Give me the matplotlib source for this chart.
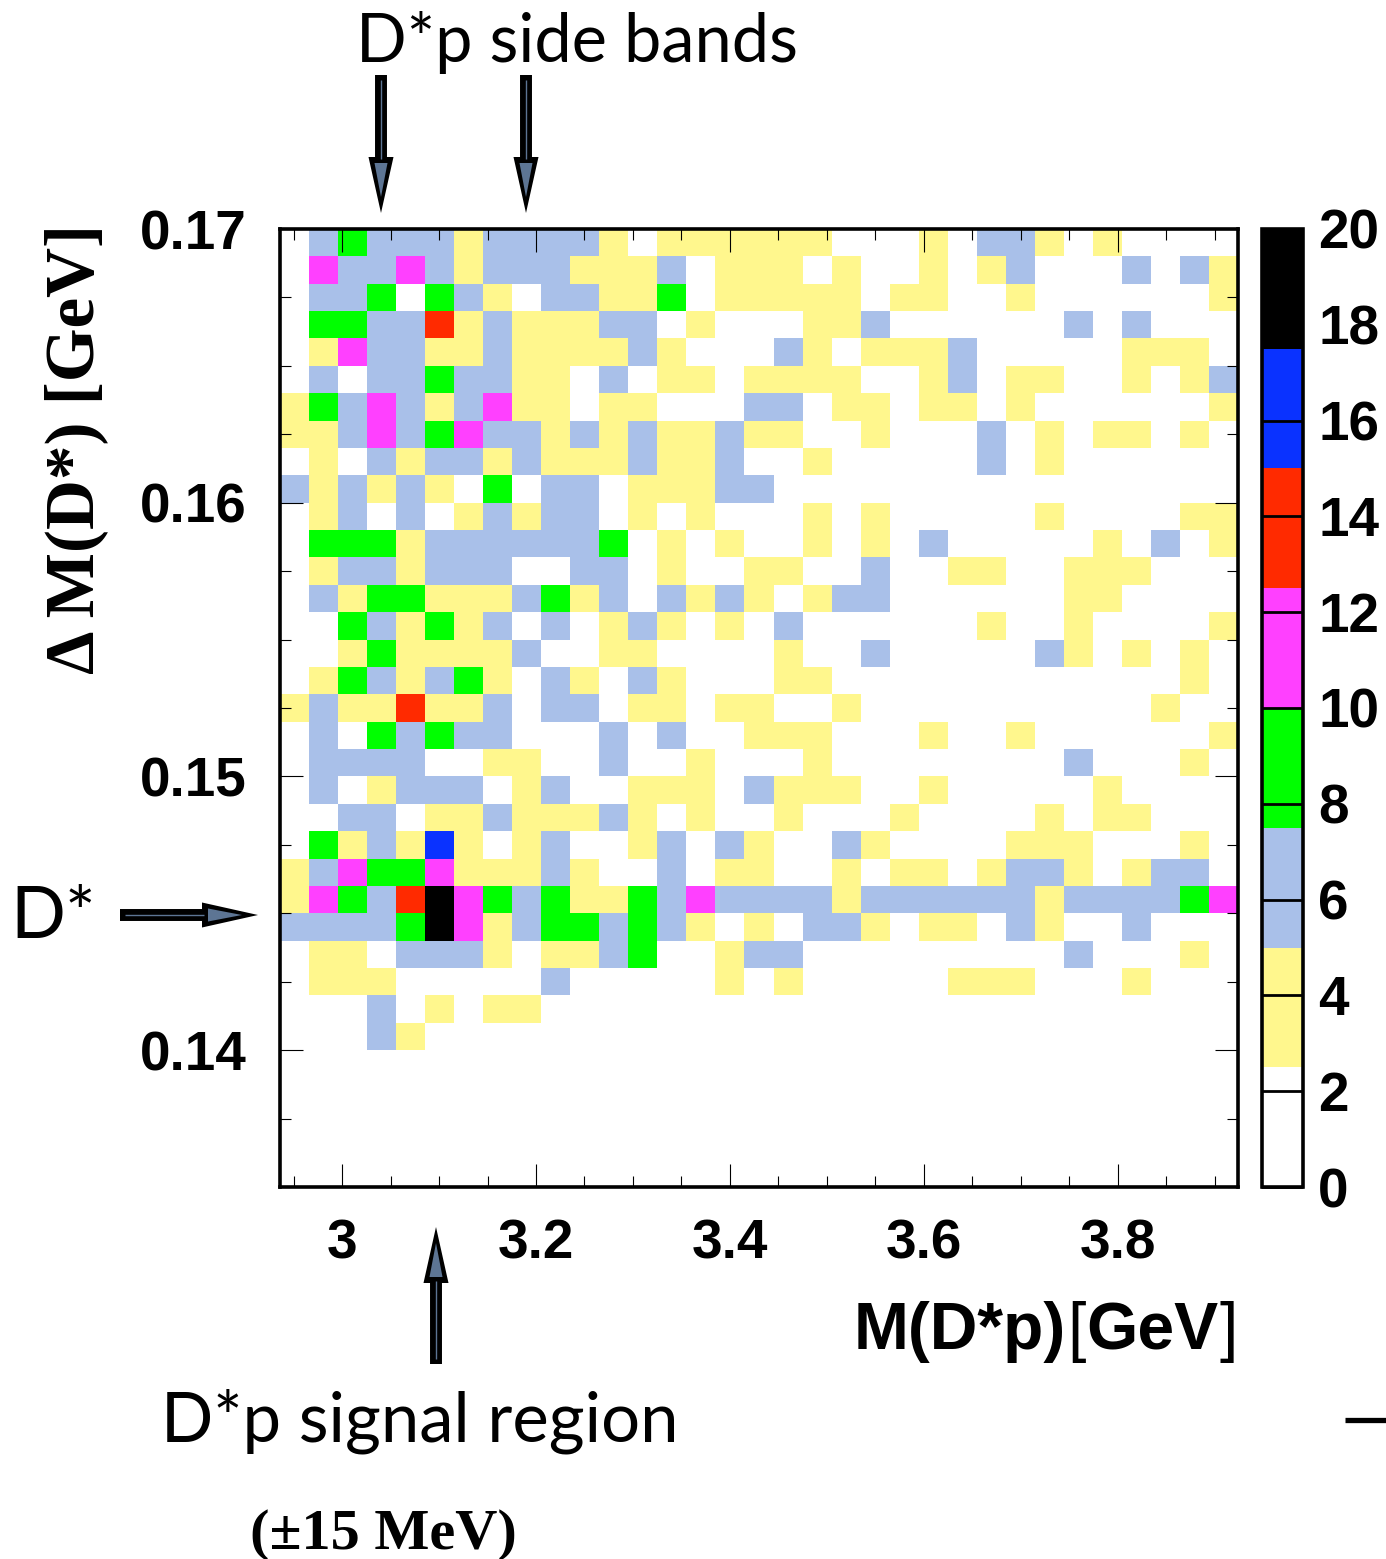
import numpy as np
import matplotlib
matplotlib.use("Agg")
import matplotlib.pyplot as plt
from matplotlib.colors import ListedColormap, BoundaryNorm
from matplotlib.patches import Polygon
from matplotlib.lines import Line2D
from matplotlib.ticker import MultipleLocator, FuncFormatter
from matplotlib.transforms import Affine2D

W, H = 1386, 1559
# Counts per cell, listed from the top row (0.170) downward, left to right
row_00 = [0,6,8,6,6,6,3,6,6,6,6,3,0,3,3,3,3,3,3,0,0,0,3,0,6,6,3,0,3,0,0,0,0]
row_01 = [0,11,6,6,11,6,3,6,6,6,3,3,3,6,0,3,3,3,0,3,0,0,3,0,3,6,0,0,0,6,0,6,3]
row_02 = [0,6,6,8,0,8,6,3,0,6,6,3,3,8,0,3,3,3,3,3,0,3,3,0,0,3,0,0,0,0,0,0,3]
row_03 = [0,8,8,6,6,13,3,6,3,3,3,6,6,0,3,0,0,0,3,3,6,0,0,0,0,0,0,6,0,6,0,0,0]
row_04 = [0,3,11,6,6,3,3,6,3,3,3,3,6,3,0,0,0,6,3,0,3,3,3,6,0,0,0,0,0,3,3,3,0]
row_05 = [0,6,0,6,6,8,6,6,3,3,0,6,0,3,3,0,3,3,3,3,0,0,3,6,0,3,3,0,0,3,0,3,6]
row_06 = [3,8,6,11,6,3,6,11,3,3,0,3,3,0,0,0,6,6,0,3,3,0,3,3,0,3,0,0,0,0,0,0,3]
row_07 = [3,3,6,11,6,8,11,6,6,3,6,3,6,3,3,6,3,3,0,0,3,0,0,0,6,0,3,0,3,3,0,3,0]
row_08 = [0,3,0,6,3,6,6,3,6,3,3,3,6,3,3,6,0,0,3,0,0,0,0,0,6,0,3,0,0,0,0,0,0]
row_09 = [6,3,6,3,6,3,0,8,0,6,6,0,3,3,3,6,6,0,0,0,0,0,0,0,0,0,0,0,0,0,0,0,0]
row_10 = [0,3,6,0,6,0,3,6,3,6,6,0,3,0,3,0,0,0,3,0,3,0,0,0,0,0,3,0,0,0,0,3,3]
row_11 = [0,8,8,8,3,6,6,6,6,6,6,8,0,3,0,3,0,0,3,0,3,0,6,0,0,0,0,0,3,0,6,0,3]
row_12 = [0,3,6,6,3,6,6,6,0,0,6,6,0,3,0,0,3,3,0,0,6,0,0,3,3,0,0,3,3,3,0,0,0]
row_13 = [0,6,3,8,8,3,3,3,6,8,3,6,0,6,3,6,3,0,3,6,6,0,0,0,0,0,0,3,3,0,0,0,0]
row_14 = [0,0,8,6,3,8,3,6,0,6,0,3,6,3,0,3,0,6,0,0,0,0,0,0,3,0,0,3,0,0,0,0,3]
row_15 = [0,0,3,8,3,3,3,3,6,0,0,3,3,0,0,0,0,3,0,0,6,0,0,0,0,0,6,3,0,3,0,3,0]
row_16 = [0,3,8,6,3,6,8,3,0,6,3,0,6,3,0,0,0,3,3,0,0,0,0,0,0,0,0,0,0,0,0,3,0]
row_17 = [3,6,3,3,13,3,3,6,0,6,6,0,3,3,0,3,3,0,0,3,0,0,0,0,0,0,0,0,0,0,3,0,0]
row_18 = [0,6,0,8,6,8,6,6,0,0,0,6,0,6,0,0,3,3,3,0,0,0,3,0,0,3,0,0,0,0,0,0,3]
row_19 = [0,6,6,6,6,0,0,3,3,0,0,6,0,0,3,0,0,0,3,0,0,0,0,0,0,0,0,6,0,0,0,3,0]
row_20 = [0,6,0,3,6,6,6,0,3,6,0,0,3,3,3,0,6,3,3,3,0,0,3,0,0,0,0,0,3,0,0,0,0]
row_21 = [0,0,6,6,0,3,3,6,3,3,3,6,3,0,3,0,0,3,0,0,0,3,0,0,0,0,3,0,3,3,0,0,0]
row_22 = [0,8,3,6,3,16,3,0,3,6,0,0,3,6,0,6,3,0,0,6,3,0,0,0,0,3,3,3,0,0,0,3,0]
row_23 = [3,6,11,8,8,11,3,3,3,6,3,0,0,6,0,3,3,0,0,3,0,3,3,0,3,6,6,3,0,3,6,6,0]
row_24 = [3,11,8,6,13,19,11,8,6,8,3,3,8,6,11,6,6,6,6,3,6,6,6,6,6,6,3,6,6,6,6,8,11]
row_25 = [6,6,6,6,8,19,11,3,6,8,8,6,8,6,3,0,3,0,6,6,3,0,3,3,0,6,3,0,0,6,0,0,0]
row_26 = [0,3,3,0,6,6,6,3,0,3,3,6,8,0,0,3,6,6,0,0,0,0,0,0,0,0,0,6,0,0,0,3,0]
row_27 = [0,3,3,3,0,0,0,0,0,6,0,0,0,0,0,3,0,3,0,0,0,0,0,3,3,3,0,0,0,3,0,0,0]
row_28 = [0,0,0,6,0,3,0,3,3,0,0,0,0,0,0,0,0,0,0,0,0,0,0,0,0,0,0,0,0,0,0,0,0]
row_29 = [0,0,0,6,3,0,0,0,0,0,0,0,0,0,0,0,0,0,0,0,0,0,0,0,0,0,0,0,0,0,0,0,0]
row_empty = [0] * 33

rows = [row_00, row_01, row_02, row_03, row_04, row_05, row_06, row_07, row_08, row_09,
        row_10, row_11, row_12, row_13, row_14, row_15, row_16, row_17, row_18, row_19,
        row_20, row_21, row_22, row_23, row_24, row_25, row_26, row_27, row_28, row_29,
        row_empty, row_empty, row_empty, row_empty, row_empty]

levels = [0, 2.5, 5, 7.5, 10, 12.5, 15, 17.5, 20]
level_colors = ["#FFFFFF", "#FFF78D", "#A9C0E9", "#00FF00", "#FF40FF", "#FF2A00", "#0A32FF", "#000000"]
x_range = (2.936, 3.924)
y_range = (0.135, 0.170)
cbar_ticks = [0, 2, 4, 6, 8, 10, 12, 14, 16, 18, 20]

SANS = "Liberation Sans"
SERIF = "Liberation Serif"
HUM = "Lato"
TICK_SIZE = 39.5

fig = plt.figure(figsize=(W / 100, H / 100), dpi=100, facecolor="white")
px = Affine2D().scale(1 / W, -1 / H).translate(0, 1) + fig.transFigure


def ax_px(l, t, r, b):
    return fig.add_axes([l / W, 1 - b / H, (r - l) / W, (b - t) / H])


ax = ax_px(280, 229, 1238, 1187)
counts = np.array(rows, dtype=float)
x_edges = np.linspace(x_range[0], x_range[1], counts.shape[1] + 1)
y_edges = np.linspace(y_range[1], y_range[0], counts.shape[0] + 1)
cmap = ListedColormap(level_colors)
norm = BoundaryNorm(levels, cmap.N)
mesh = ax.pcolormesh(x_edges, y_edges, counts, cmap=cmap, norm=norm, antialiased=False, zorder=1)
ax.set_xlim(*x_range)
ax.set_ylim(*y_range)
ax.set_axisbelow(False)
ax.xaxis.set_major_locator(MultipleLocator(0.2))
ax.xaxis.set_minor_locator(MultipleLocator(0.05))
ax.yaxis.set_major_locator(MultipleLocator(0.01))
ax.yaxis.set_minor_locator(MultipleLocator(0.0025))
ax.xaxis.set_major_formatter(FuncFormatter(lambda v, p: f"{v:g}"))
ax.yaxis.set_major_formatter(FuncFormatter(lambda v, p: f"{v:.2f}"))
ax.tick_params(which="major", direction="in", top=True, right=True, length=16.5, width=0.8, color="black")
ax.tick_params(which="minor", direction="in", top=True, right=True, length=8, width=0.8, color="black")
ax.tick_params(axis="x", which="major", pad=23)
ax.tick_params(axis="y", which="major", pad=24)
for lab in ax.get_xticklabels() + ax.get_yticklabels():
    lab.set_fontfamily(SANS)
    lab.set_fontweight("bold")
    lab.set_fontsize(TICK_SIZE)
for s in ax.spines.values():
    s.set_linewidth(2.6)
    s.set_zorder(5)

cax = ax_px(1262, 229, 1303, 1187)
cb = fig.colorbar(mesh, cax=cax, ticks=cbar_ticks, spacing="proportional", drawedges=False)
cb.outline.set_linewidth(2.6)
cb.solids.set_antialiased(False)
cb.ax.tick_params(axis="y", which="major", direction="in", length=30, width=2, color="black", pad=11)
cb.ax.minorticks_off()
cb.ax.set_yticklabels([str(v) for v in cbar_ticks], fontfamily=SANS, fontweight="bold", fontsize=TICK_SIZE)


def ftext(x, y, s, **kw):
    return fig.text(x / W, 1 - y / H, s, **kw)


def arrow(tip, tail, slate="#5D7594"):
    tip, tail = np.array(tip, float), np.array(tail, float)
    d = (tip - tail) / np.linalg.norm(tip - tail)
    n = np.array([-d[1], d[0]])
    head = tip - d * 56
    fig.add_artist(Line2D([tail[0], head[0]], [tail[1], head[1]], transform=px, color="black",
                          lw=8.6, solid_capstyle="butt"))
    fig.add_artist(Line2D([(tail + d * 5)[0], (head + d * 2)[0]], [(tail + d * 5)[1], (head + d * 2)[1]],
                          transform=px, color=slate, lw=1.0, solid_capstyle="butt"))
    fig.add_artist(Polygon([tip, head + n * 12.5, head - n * 12.5], closed=True, transform=px,
                           facecolor="black", edgecolor="none"))
    inner_base = head + d * 6
    fig.add_artist(Polygon([tip - d * 16, inner_base + n * 6.5, inner_base - n * 6.5], closed=True,
                           transform=px, facecolor=slate, edgecolor="none"))


arrow((381, 213), (381, 75))
arrow((526, 213), (526, 75))
arrow((258, 915), (120, 915))
arrow((436, 1227), (436, 1364))

ftext(356, 62, "D*p side bands", family=HUM, fontsize=48, ha="left", va="baseline", color="black")
ftext(161, 1441, "D*p signal region", family=HUM, fontsize=49.6, ha="left", va="baseline", color="black")
ftext(10, 938, "D*", family=HUM, fontsize=52, ha="left", va="baseline", color="black")
ftext(250, 1549, "(±15 MeV)", family=SERIF, fontweight="bold", fontsize=42, ha="left", va="baseline", color="black")

# x-axis title: bold letters with thin brackets, laid out piece by piece from the right edge
renderer = fig.canvas.get_renderer()
label_parts = [("]", "normal"), ("GeV", "bold"), ("[", "normal"), ("M(D*p)", "bold")]
right = 1238.0
for part, weight in label_parts:
    t = ftext(right, 1349, part, family=SANS, fontweight=weight, fontsize=47.5, ha="right", va="baseline", color="black")
    right -= t.get_window_extent(renderer).width + 1

ftext(108, 449, "Δ M(D*) [GeV]", family=SERIF, fontweight="bold", fontsize=49.8, rotation=90,
      ha="right", va="center", color="black")
fig.add_artist(Line2D([1345, 1386], [1420, 1420], transform=px, color="black", lw=3.8, solid_capstyle="butt"))

fig.savefig("out.png", dpi=100, facecolor="white")
